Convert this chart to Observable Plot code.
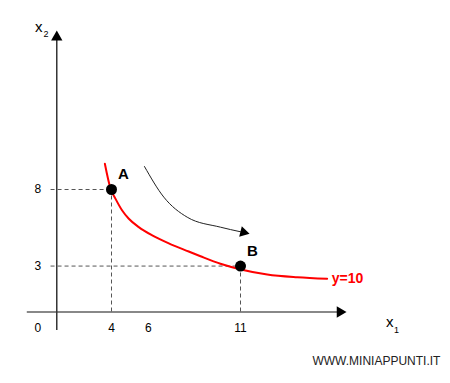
<!DOCTYPE html>
<html>
<head>
<meta charset="utf-8">
<script src="https://cdn.jsdelivr.net/npm/d3@7"></script>
<script src="https://cdn.jsdelivr.net/npm/@observablehq/plot@0.6"></script>
<style>
  html, body { margin: 0; padding: 0; background: #fff; }
  svg { display: block; font-family: "Liberation Sans", Arial, sans-serif; }
</style>
</head>
<body>
<div id="chart"></div>
<script>
// Tick labels
const xTicks = [0, 4, 6, 11];
const yTicks = [3, 8];

// Highlighted points on the isoquant
const pointLabels = ["A", "B"];
const pointX = [4, 11];
const pointY = [8, 3];

// Isoquant y = 10
const curveX = [3.64, 3.95, 4.22, 4.58, 4.94, 5.48, 6.21, 7.11, 8.19, 8.83, 9.91, 11.02, 12.45, 14.08, 15.7];
const curveY = [9.68, 8.05, 7.39, 6.63, 6.09, 5.54, 5.0, 4.48, 3.95, 3.64, 3.15, 2.78, 2.45, 2.27, 2.17];

// Curved movement arrow
const arrowX = [5.79, 6.84, 8.11, 9.91, 11.0];
const arrowY = [9.5, 7.5, 6.19, 5.54, 5.24];

const curveLabel = "y=10";
const xAxisLabel = "x";
const yAxisLabel = "x";
const xAxisSub = "1";
const yAxisSub = "2";
const watermark = "WWW.MINIAPPUNTI.IT";

const points = pointLabels.map((label, i) => ({label, x: pointX[i], y: pointY[i]}));
const curve = curveX.map((x, i) => ({x, y: curveY[i]}));
const arrow = arrowX.map((x, i) => ({x, y: arrowY[i]}));

const axisX0 = 1.03;   // where the vertical axis crosses
const font = "Liberation Sans, Arial, sans-serif";

const chart = Plot.plot({
  width: 450,
  height: 383,
  margin: 0,
  x: {domain: [4, 11], range: [111, 240], axis: null},
  y: {domain: [0, 8], range: [311.5, 189], axis: null},
  marks: [
    // axes
    Plot.ruleY([0], {x1: -0.57, x2: 16.4, stroke: "#888", strokeWidth: 2}),
    Plot.ruleX([axisX0], {y1: -1.2, y2: 17.9, stroke: "#333", strokeWidth: 1.5}),
    Plot.dot([{x: 16.4, y: 0}], {x: "x", y: "y", symbol: "triangle", r: 4.2, fill: "#000", stroke: "none", rotate: 90}),
    Plot.dot([{x: axisX0, y: 0}], {x: "x", y: () => 17.95, symbol: "triangle", r: 4.2, fill: "#000", stroke: "none"}),
    // dashed guides
    Plot.ruleY(points, {y: "y", x1: () => 0.72, x2: "x", stroke: "#555", strokeWidth: 1, strokeDasharray: "4,3"}),
    Plot.ruleX(points, {x: "x", y1: () => 0, y2: "y", stroke: "#555", strokeWidth: 1, strokeDasharray: "4,3"}),
    // isoquant
    Plot.line(curve, {x: "x", y: "y", curve: "monotone-x", stroke: "#ff0000", strokeWidth: 2}),
    Plot.text([curveLabel], {x: () => 15.95, y: () => 2.2, text: d => d, textAnchor: "start", fill: "#ff0000", fontWeight: "bold", fontSize: 14, fontFamily: font}),
    // movement arrow
    Plot.line(arrow, {x: "x", y: "y", curve: "monotone-x", stroke: "#222", strokeWidth: 1}),
    Plot.dot([arrow[arrow.length - 1]], {x: "x", y: "y", symbol: "triangle", r: 4, fill: "#000", stroke: "none", rotate: 104, dx: 3, dy: 0.5}),
    // points
    Plot.dot(points, {x: "x", y: "y", r: 5.5, fill: "#000", stroke: "none"}),
    Plot.text(points, {x: "x", y: "y", text: "label", dx: 12, dy: -15, fontWeight: "bold", fontSize: 15, fill: "#000", fontFamily: font}),
    // tick labels
    Plot.text(xTicks, {x: d => d, y: () => 0, text: d => String(d), dy: 16, fontSize: 12, fill: "#000", fontFamily: font}),
    Plot.text(yTicks, {x: () => 0, y: d => d, text: d => String(d), fontSize: 12, fill: "#000", fontFamily: font}),
    // axis labels
    Plot.text([yAxisLabel], {x: () => 0.05, y: () => 18.6, text: d => d, fontSize: 15, fill: "#000", fontFamily: font}),
    Plot.text([yAxisSub], {x: () => 0.45, y: () => 18.15, text: d => d, fontSize: 9, fill: "#000", fontFamily: font}),
    Plot.text([xAxisLabel], {x: () => 19.1, y: () => -0.66, text: d => d, fontSize: 15, fill: "#000", fontFamily: font}),
    Plot.text([xAxisSub], {x: () => 19.47, y: () => -1.15, text: d => d, fontSize: 9, fill: "#000", fontFamily: font}),
    // watermark
    Plot.text([watermark], {x: () => 21.85, y: () => -3.22, text: d => d, textAnchor: "end", fontSize: 12, fill: "#222", fontFamily: font})
  ]
});
document.getElementById("chart").append(chart);
</script>
</body>
</html>
